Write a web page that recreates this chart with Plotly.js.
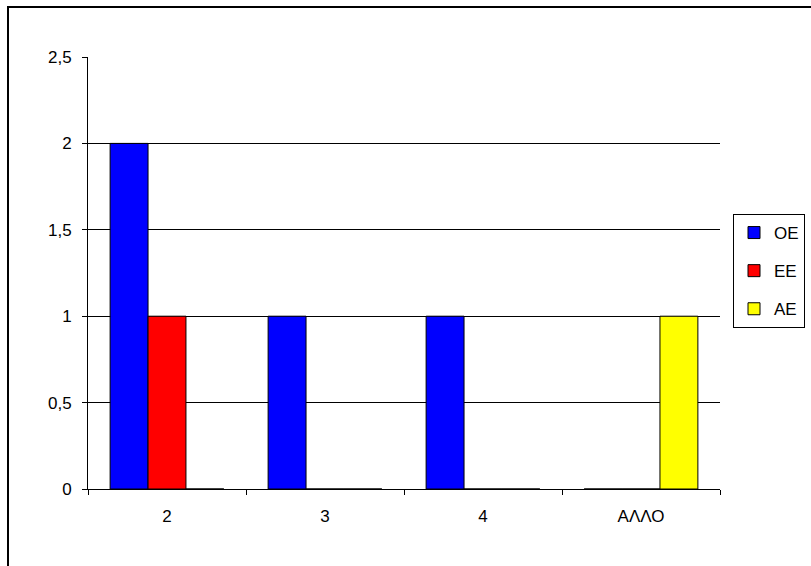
<!DOCTYPE html>
<html><head><meta charset="utf-8">
<script src="https://cdn.plot.ly/plotly-3.0.1.min.js"></script>
<style>html,body{margin:0;padding:0;background:#fff}#c{width:811px;height:566px}</style>
</head><body><div id="c"></div>
<script>
const categories = ["2", "3", "4", "ΑΛΛΟ"];
const seriesNames = ["ΟΕ", "ΕΕ", "ΑΕ"];
const valuesOE = [2, 1, 1, 0];
const valuesEE = [1, 0, 0, 0];
const valuesAE = [0, 0, 0, 1];
const colors = ["#0000FF", "#FF0000", "#FFFF00"];
const yTicks = [0, 0.5, 1, 1.5, 2, 2.5];

const allValues = [valuesOE, valuesEE, valuesAE];
const traces = allValues.map((v, i) => ({
  type: "bar",
  name: seriesNames[i],
  x: categories,
  y: v,
  legendgroup: "g" + i,
  marker: {color: colors[i], line: {color: "#000", width: 1}}
}));

const layout = {
  width: 811, height: 566,
  margin: {l: 88, r: 91, t: 57, b: 77},
  paper_bgcolor: "#fff", plot_bgcolor: "#fff",
  separators: ", ",
  font: {family: "Liberation Sans, Arial, sans-serif", size: 17, color: "#000"},
  barmode: "group", bargap: 0.28, bargroupgap: 0,
  showlegend: true,
  legend: {
    xref: "container", yref: "container",
    x: 733 / 811, xanchor: "left", y: 1 - 214 / 566, yanchor: "top",
    bordercolor: "#000", borderwidth: 1, bgcolor: "#fff",
    traceorder: "grouped", tracegroupgap: 13,
    font: {size: 17}
  },
  xaxis: {
    type: "category", tickson: "boundaries",
    ticks: "outside", ticklen: 5, tickcolor: "#000",
    ticklabelstandoff: 12,
    showline: true, linecolor: "#000", linewidth: 1,
    showgrid: false, fixedrange: true
  },
  yaxis: {
    range: [0, 2.5], tickvals: yTicks, ticktext: yTicks.map(v => String(v).replace(".", ",")),
    ticks: "outside", ticklen: 5, tickcolor: "#000",
    ticklabelstandoff: 7,
    showline: true, linecolor: "#000", linewidth: 1,
    showgrid: true, gridcolor: "#000", gridwidth: 1,
    zeroline: false, fixedrange: true
  },
  shapes: [{
    type: "rect", xref: "paper", yref: "paper",
    x0: (8 - 88) / 632, x1: 1.2, y0: -0.3, y1: 1 + (57 - 7) / 432,
    line: {color: "#000", width: 2}, fillcolor: "rgba(0,0,0,0)", layer: "above"
  }]
};
Plotly.newPlot("c", traces, layout, {displayModeBar: false, staticPlot: true});
</script></body></html>
